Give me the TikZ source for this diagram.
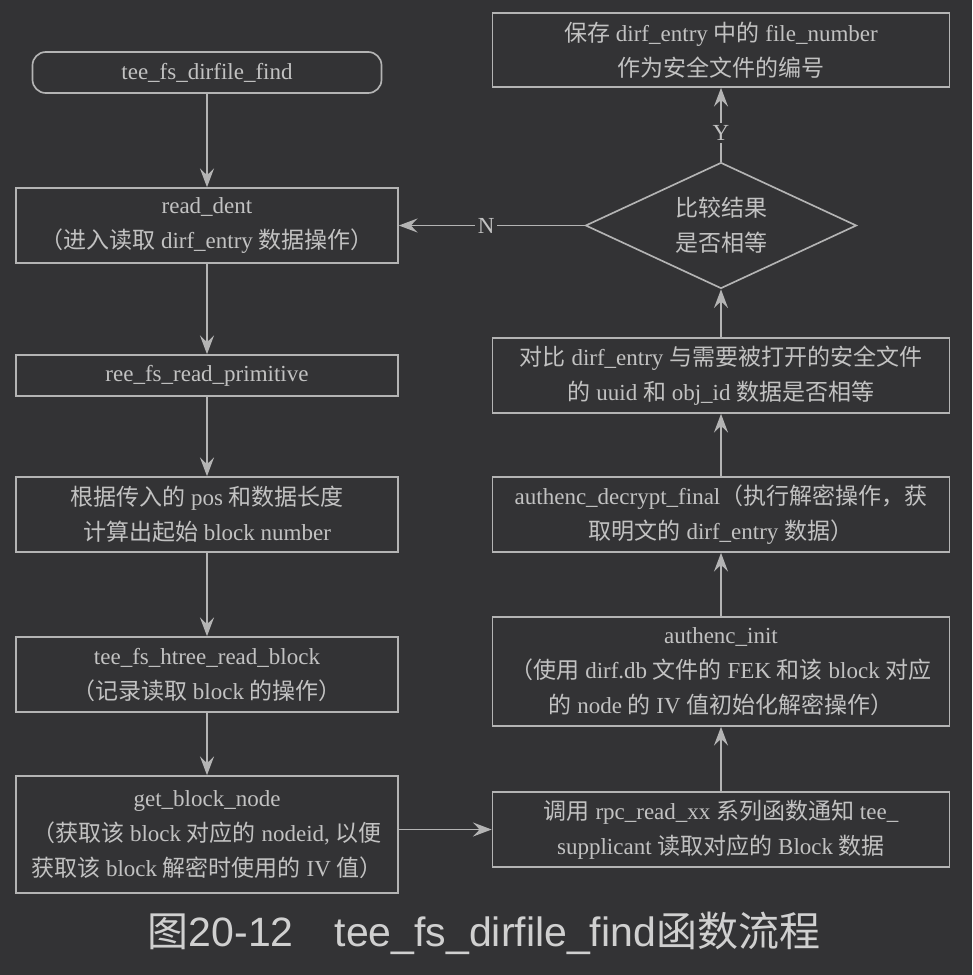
\documentclass[tikz,border=0pt]{standalone}
\usepackage{fontspec}
\setmainfont{Liberation Serif}
\newfontfamily\cjk{Noto Sans CJK SC}
\newfontfamily\capsans{Liberation Sans}
\usetikzlibrary{shapes.geometric,arrows.meta}

\definecolor{bgcol}{HTML}{333335}
\definecolor{linecol}{HTML}{B4B4B4}
\definecolor{txtcol}{HTML}{C2C2C2}
\definecolor{captxt}{HTML}{D0D0D0}
\newcommand\zh[1]{{\cjk #1}}

\begin{document}
\begin{tikzpicture}[x=0.75pt,y=-0.75pt,
	box/.style={draw=linecol,line width=1.25pt,text=txtcol,align=center,inner sep=0pt,
		font=\fontsize{17.25pt}{26.25pt}\selectfont},
	lbox/.style={box,minimum width=286.5pt},
	rbox/.style={box,minimum width=342.75pt},
	flow/.style={draw=linecol,line width=1.25pt,-{Stealth[length=14pt,width=10.5pt,inset=5pt]}},
	lbl/.style={text=txtcol,fill=bgcol,inner sep=2pt,font=\fontsize{17.25pt}{20pt}\selectfont}]

	% background, page size
	\fill[bgcol] (0,0) rectangle (972,975);
	\useasboundingbox (0,0) rectangle (972,975);

	% left column, top to bottom
	\node[box,rounded corners=10pt,minimum width=261.75pt,minimum height=30.75pt] (start) at (207,72.5) {tee\_fs\_dirfile\_find};
	\node[lbox,minimum height=56.25pt] (dent) at (207,225.5) {read\_dent\\\zh{（进入读取} dirf\_entry \zh{数据操作）}};
	\node[lbox,minimum height=30.75pt] (prim) at (207,375.5) {ree\_fs\_read\_primitive};
	\node[lbox,minimum height=56.25pt] (pos) at (207,514.5) {\zh{根据传入的} pos \zh{和数据长度}\\\zh{计算出起始} block number};
	\node[lbox,minimum height=56.25pt] (htree) at (207,674.5) {tee\_fs\_htree\_read\_block\\\zh{（记录读取} block \zh{的操作）}};
	\node[lbox,minimum height=87.75pt] (getnode) at (207,834.5) {get\_block\_node\\\zh{（获取该} block \zh{对应的} nodeid, \zh{以便}\\\zh{获取该} block \zh{解密时使用的} IV \zh{值）}};

	% right column, bottom to top
	\node[rbox,minimum height=56.25pt] (rpc) at (721,829.5) {\zh{调用} rpc\_read\_xx \zh{系列函数通知} tee\_\\supplicant \zh{读取对应的} Block \zh{数据}};
	\node[rbox,minimum height=81.75pt] (init) at (721,671.5) {authenc\_init\\\zh{（使用} dirf.db \zh{文件的} FEK \zh{和该} block \zh{对应}\\\zh{的} node \zh{的} IV \zh{值初始化解密操作）}};
	\node[rbox,minimum height=56.25pt] (decrypt) at (721,514.5) {authenc\_decrypt\_final\zh{（执行解密操作，获}\\\zh{取明文的} dirf\_entry \zh{数据）}};
	\node[rbox,minimum height=56.25pt] (cmp) at (721,375.5) {\zh{对比} dirf\_entry \zh{与需要被打开的安全文件}\\\zh{的} uuid \zh{和} obj\_id \zh{数据是否相等}};
	\node[box,diamond,aspect=2.15,minimum width=203.25pt,minimum height=94.5pt] (eq) at (721,225.5) {\zh{比较结果}\\\zh{是否相等}};
	\node[rbox,minimum height=55.5pt] (save) at (721,50) {\zh{保存} dirf\_entry \zh{中的} file\_number\\\zh{作为安全文件的编号}};

	% connectors
	\draw[flow] (start) -- (dent);
	\draw[flow] (dent) -- (prim);
	\draw[flow] (prim) -- (pos);
	\draw[flow] (pos) -- (htree);
	\draw[flow] (htree) -- (getnode);
	\draw[flow] (getnode.east |- rpc.west) -- (rpc.west);
	\draw[flow] (rpc) -- (init);
	\draw[flow] (init) -- (decrypt);
	\draw[flow] (decrypt) -- (cmp);
	\draw[flow] (cmp) -- (eq);
	\draw[flow] (eq) -- node[lbl,pos=0.39] {Y} (save);
	\draw[flow] (eq) -- node[lbl,pos=0.53] {N} (dent);

	% caption
	\node[text=captxt,font=\capsans\fontsize{30.75pt}{36pt}\selectfont] (cap) at (484,933) {\zh{图}20-12\quad tee\_fs\_dirfile\_find\zh{函数流程}};
\end{tikzpicture}
\end{document}
